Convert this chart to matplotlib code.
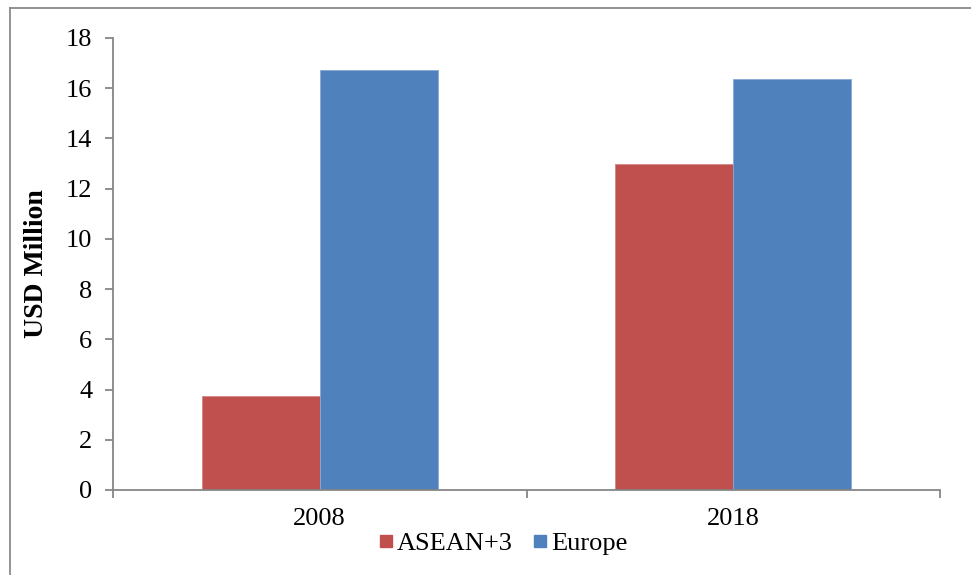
import matplotlib
matplotlib.use("Agg")
import matplotlib.pyplot as plt
from matplotlib.lines import Line2D
import numpy as np

categories = ["2008", "2018"]
series_names = ["ASEAN+3", "Europe"]
asean = [3.74, 12.98]
europe = [16.73, 16.36]
yticks = [0, 2, 4, 6, 8, 10, 12, 14, 16, 18]

plt.rcParams['font.family'] = ['Liberation Serif', 'DejaVu Serif']

W, H = 971, 575
fig = plt.figure(figsize=(W / 100, H / 100), dpi=100)
ax = fig.add_axes([113 / W, 1 - 490 / H, (940 - 113) / W, (490 - 38) / H])

x = np.arange(len(categories))
bw = 1 / 3.5
ax.bar(x - bw / 2, asean, width=bw, color="#C0504D", edgecolor="#D48784", linewidth=0.6, label=series_names[0], zorder=2)
ax.bar(x + bw / 2, europe, width=bw, color="#4F81BD", edgecolor="#88A8D6", linewidth=0.6, label=series_names[1], zorder=2)

ax.set_xlim(-0.5, len(categories) - 0.5)
ax.set_ylim(0, 18)
ax.set_yticks(yticks)
ax.set_yticklabels([str(t) for t in yticks], fontsize=19)
ax.set_xticks(x)
ax.set_xticklabels(categories, fontsize=19)
ax.set_xticks(np.arange(-0.5, len(categories)), minor=True)
ax.tick_params(axis='x', which='major', length=0, pad=13)
ax.tick_params(axis='x', which='minor', length=6, width=1.3, color="#868686", direction='out')
ax.tick_params(axis='y', length=6, width=1.3, color="#868686", direction='out', pad=9)

for s in ["top", "right"]:
    ax.spines[s].set_visible(False)
for s in ["left", "bottom"]:
    ax.spines[s].set_color("#868686")
    ax.spines[s].set_linewidth(1.3)

ax.set_ylabel("USD Million", fontsize=20, fontweight='bold', labelpad=12)

handles = [Line2D([], [], marker='s', linestyle='None', markersize=9, color="#C0504D"),
           Line2D([], [], marker='s', linestyle='None', markersize=9, color="#4F81BD")]
fig.legend(handles, series_names, loc='center', bbox_to_anchor=(500 / W, 1 - 543 / H),
           ncol=2, frameon=False, fontsize=19, handletextpad=-0.1, columnspacing=0.55,
           handlelength=1.0)

# figure border (top and left visible)
fig.add_artist(Line2D([10 / W, 1.0], [1 - 8 / H, 1 - 8 / H], transform=fig.transFigure, color="#8a8a8a", linewidth=1.3))
fig.add_artist(Line2D([10 / W, 10 / W], [0, 1 - 8 / H], transform=fig.transFigure, color="#8a8a8a", linewidth=1.3))

fig.savefig("out.png", dpi=100)
